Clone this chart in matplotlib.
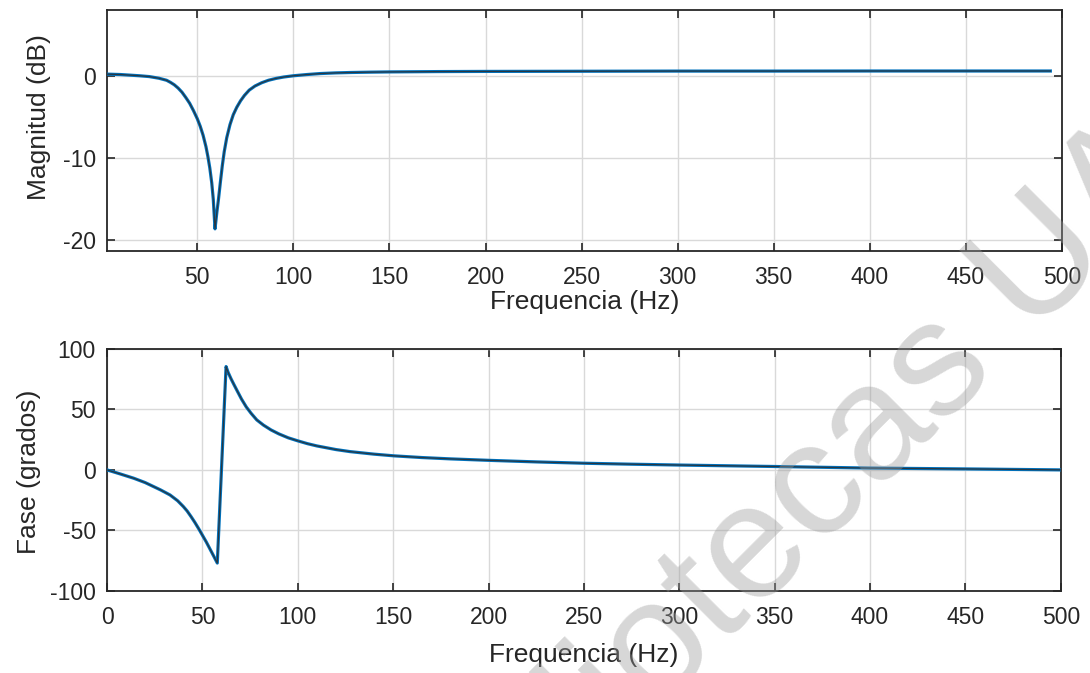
import matplotlib.pyplot as plt

freq_mag = [3, 10, 20, 25, 30, 34, 36, 38, 40, 42, 44, 46, 48, 50, 51.5, 53, 54.5, 55.5, 56.5,
            57.5, 58.3, 59.2, 60.2, 61, 62, 63, 64, 65.3, 67, 68.7, 70.5, 72.5, 74.5, 77, 80,
            83.5, 87, 91, 95, 100, 107, 114, 122, 130, 140, 150, 175, 200, 250, 300, 350, 400,
            450, 494]
mag_db = [0.25, 0.2, 0.05, -0.05, -0.25, -0.5, -0.75, -1.05, -1.45, -1.95, -2.6, -3.3, -4.2,
          -5.2, -6.1, -7.2, -8.6, -9.8, -11.2, -13.0, -15.0, -18.6, -16.5, -15.0, -12.9, -10.9,
          -9.2, -7.5, -5.9, -4.7, -3.8, -3.0, -2.35, -1.7, -1.2, -0.8, -0.5, -0.27, -0.1, 0.05,
          0.2, 0.32, 0.4, 0.45, 0.49, 0.52, 0.56, 0.58, 0.6, 0.62, 0.62, 0.63, 0.63, 0.63]

freq_fase = [0, 7, 14, 20, 24, 28, 33, 37, 40, 42, 44, 46, 48, 50, 52, 54, 56, 57.8, 62.4,
             63.5, 65, 66.5, 68.5, 70.5, 73, 75.5, 78.5, 82, 86, 90, 95, 100, 105, 110, 120,
             127.4, 140, 150.5, 165, 180, 200, 225, 250, 275, 300, 350, 400, 450, 500]
fase_deg = [0, -3.4, -6.9, -10.5, -13.5, -16.5, -20.7, -25.5, -30.3, -34, -38.5, -43.3, -48.5,
            -54, -59.5, -65.5, -71.5, -77, 85.4, 80.5, 75.3, 70.6, 64.5, 58.5, 52, 46.8, 41.3,
            37, 33, 29.8, 26.5, 24, 21.7, 19.8, 16.8, 15.1, 13, 11.6, 10.2, 9.1, 7.9, 6.6, 5.5,
            4.7, 4.0, 2.8, 1.5, 0.8, 0]

xticks_mag = [50, 100, 150, 200, 250, 300, 350, 400, 450, 500]
xticks_fase = [0, 50, 100, 150, 200, 250, 300, 350, 400, 450, 500]
yticks_mag = [-20, -10, 0]
yticks_fase = [-100, -50, 0, 50, 100]

plt.rcParams['font.family'] = ['Liberation Sans', 'DejaVu Sans']
plt.rcParams['axes.unicode_minus'] = False
dark = '#262626'
blue = '#0072BD'

fig = plt.figure(figsize=(10.9, 6.73), dpi=100)
ax1 = fig.add_axes([0.0982, 0.627, 0.876, 0.358])
ax2 = fig.add_axes([0.0982, 0.122, 0.875, 0.3596])


def estilo(ax):
    # estilo tipo MATLAB / MATLAB-like style
    ax.grid(True, color='#d9d9d9', linewidth=1.0)
    ax.set_axisbelow(True)
    ax.tick_params(direction='in', length=6, width=1.2, colors=dark, labelsize=16.5,
                   top=True, right=True, labeltop=False, labelright=False)
    ax.tick_params(axis='x', pad=11)
    ax.tick_params(axis='y', pad=8)
    for s in ax.spines.values():
        s.set_color(dark)
        s.set_linewidth(1.3)


# Magnitud
ax1.plot(freq_mag, mag_db, color=blue, linewidth=2.3, zorder=3)
ax1.plot(freq_mag, mag_db, color='#2a3640', linewidth=0.9, zorder=4)
ax1.set_xlim(3, 500)
ax1.set_ylim(-21.3, 8.05)
ax1.set_xticks(xticks_mag)
ax1.set_yticks(yticks_mag)
estilo(ax1)
ax1.set_xlabel('Frequencia (Hz)', fontsize=19, color=dark)
ax1.xaxis.set_label_coords(0.5, -0.16)
ax1.set_ylabel('Magnitud (dB)', fontsize=19, color=dark, va='center')
ax1.yaxis.set_label_coords(-0.071, 0.556)

# Fase
ax2.plot(freq_fase, fase_deg, color=blue, linewidth=2.3, zorder=3)
ax2.plot(freq_fase, fase_deg, color='#2a3640', linewidth=0.9, zorder=4)
ax2.set_xlim(0, 500)
ax2.set_ylim(-100, 100)
ax2.set_xticks(xticks_fase)
ax2.set_yticks(yticks_fase)
estilo(ax2)
ax2.set_xlabel('Frequencia (Hz)', fontsize=19, color=dark)
ax2.xaxis.set_label_coords(0.5, -0.215)
ax2.set_ylabel('Fase (grados)', fontsize=19, color=dark, va='center')
ax2.yaxis.set_label_coords(-0.082, 0.49)

# marca de agua / watermark
fig.text(830 / 1090, 1 - 479 / 673, 'Bibliotecas UAO', fontsize=118, rotation=45,
         color='#9a9a9a', alpha=0.4, ha='center', va='center', zorder=10,
         rotation_mode='anchor')

fig.savefig('out.png', dpi=100)
